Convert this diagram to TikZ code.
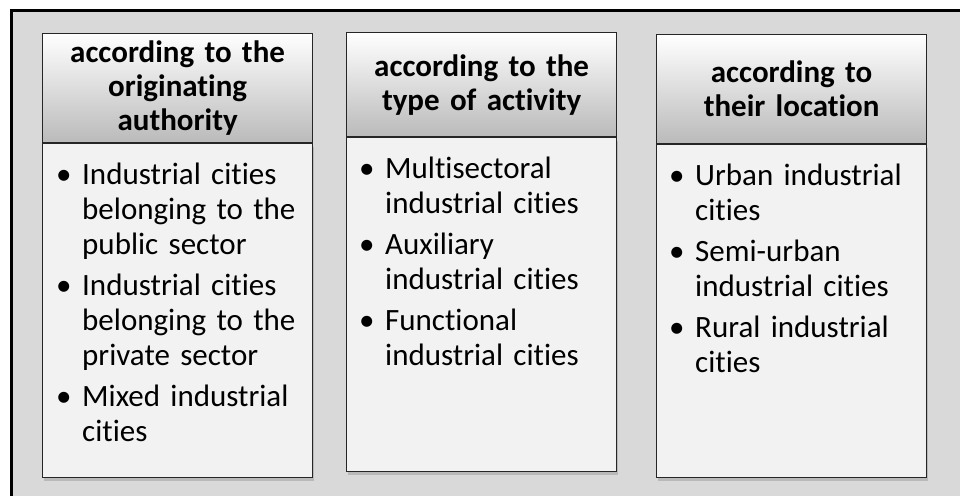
\documentclass[tikz,border=0pt]{standalone}
\usepackage{fontspec}
\setmainfont{Carlito}[Ligatures=NoCommon]
\usetikzlibrary{shadows,calc}

\tikzset{
  headbox/.style={draw=black!85, line width=1.2pt, top color=white, bottom color=black!27,
    minimum width=270pt, minimum height=#1, anchor=north west, inner sep=0pt,
    align=center, text width=265pt, font=\fontsize{31}{34}\selectfont\bfseries},
  bodybox/.style={draw=black!85, line width=1.2pt, fill=black!5, minimum width=270pt,
    minimum height=#1, anchor=north west, inner sep=0pt,
    drop shadow={shadow xshift=1pt, shadow yshift=-3pt, opacity=.35}},
  listtext/.style={anchor=north west, inner sep=0pt, text width=250pt, align=left,
    font=\fontsize{31}{35}\selectfont\setlength\parskip{6pt}},
}
\newcommand{\bul}{\hangindent=26pt\hangafter=1\noindent\makebox[26pt][l]{\textbullet}}

\begin{document}
\begin{tikzpicture}[x=1pt,y=-1pt]
\useasboundingbox (0,0) rectangle (960,495);
\draw[line width=3pt, fill=black!15] (11,11) rectangle (975,510);

% first column
\node[headbox=109pt] (h1) at (42,33) {according to the\\originating\\authority};
\node[bodybox=334pt] (b1) at (h1.south west) {};
\node[listtext] (t1) at ($(b1.north west)+(14,20)$) {%
  \bul Industrial cities\newline belonging to the\newline public sector\par
  \bul Industrial cities\newline belonging to the\newline private sector\par
  \bul Mixed industrial\newline cities\par};

% second column
\node[headbox=104pt] (h2) at (346,32) {according to the\\type of activity};
\node[bodybox=334pt] (b2) at (h2.south west) {};
\node[listtext] (t2) at ($(b2.north west)+(13,20)$) {%
  \bul Multisectoral\newline industrial cities\par
  \bul Auxiliary\newline industrial cities\par
  \bul Functional\newline industrial cities\par};

% third column
\node[headbox=109pt] (h3) at (656,34) {according to\\their location};
\node[bodybox=333pt] (b3) at (h3.south west) {};
\node[listtext] (t3) at ($(b3.north west)+(13,20)$) {%
  \bul Urban industrial\newline cities\par
  \bul Semi-urban\newline industrial cities\par
  \bul Rural industrial\newline cities\par};
\end{tikzpicture}
\end{document}
